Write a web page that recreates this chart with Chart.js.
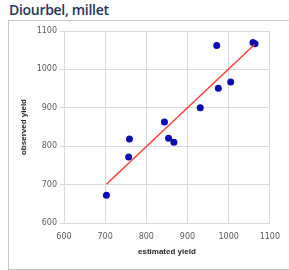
<!DOCTYPE html>
<html>
<head>
<meta charset="utf-8">
<script src="https://cdn.jsdelivr.net/npm/chart.js@4.4.1/dist/chart.umd.min.js"></script>
<style>
    html, body { margin: 0; padding: 0; background: #fff; }
    #wrap { position: relative; width: 289px; height: 270px; overflow: hidden; }
    #titulo { position: absolute; left: 9px; top: 0; font: 600 14px "Open Sans"; letter-spacing: -0.3px; color: #1F3560; white-space: nowrap; }
    #moldura { position: absolute; left: 8px; top: 20px; width: 300px; height: 248px; border: 1px solid #C4C4C4; }
    #grafico { position: absolute; left: 0; top: 0; }
</style>
</head>
<body>
<div id="wrap">
    <div id="titulo">Diourbel, millet</div>
    <div id="moldura"></div>
    <canvas id="grafico" width="289" height="270"></canvas>
</div>
<script>
// dados
const estimatedYield = [703, 757, 759, 844, 854, 867, 931, 971, 975, 1005, 1059, 1064];
const observedYield  = [672, 772, 819, 863, 821, 810, 900, 1062, 951, 967, 1070, 1067];

// linha de tendência (extremos)
const trendX = [703, 1063];
const trendY = [701, 1065];

const AXIS_TICKS = [600, 700, 800, 900, 1000, 1100];

const COR = {
    ponto: '#0C0CB4',
    linha: '#FF3C3C',
    grade: '#D9D9D9',
    texto: '#595959',
    titulo: '#262626',
};

const pontos = estimatedYield.map((x, i) => ({ x, y: observedYield[i] }));
const tendencia = trendX.map((x, i) => ({ x, y: trendY[i] }));

const fonteTick = { family: 'DejaVu Sans', size: 8 };
const fonteTitulo = { family: 'Liberation Sans', size: 8, weight: 'bold' };

new Chart(document.getElementById('grafico'), {
    type: 'scatter',
    data: {
        datasets: [
            {
                type: 'line',
                data: tendencia,
                borderColor: COR.linha,
                borderWidth: 1.5,
                pointRadius: 0,
                fill: false,
            },
            {
                data: pontos,
                backgroundColor: COR.ponto,
                borderColor: COR.ponto,
                pointRadius: 3.5,
                pointBorderWidth: 0,
            }
        ]
    },
    options: {
        responsive: false,
        animation: false,
        layout: { padding: { left: 8, top: 31, right: 18, bottom: 7 } },
        plugins: {
            legend: { display: false },
            tooltip: { enabled: false },
        },
        scales: {
            x: {
                type: 'linear',
                min: 600,
                max: 1100,
                afterBuildTicks: s => { s.ticks = AXIS_TICKS.map(v => ({ value: v })); },
                afterFit: s => { s.height = 40; },
                grid: { color: COR.grade, drawTicks: false },
                border: { color: COR.grade },
                ticks: { font: fonteTick, color: COR.texto, padding: 9, maxRotation: 0, callback: v => String(v) },
                title: {
                    display: true,
                    text: 'estimated yield',
                    font: fonteTitulo,
                    color: COR.titulo,
                    padding: { top: 0, bottom: 6.5 },
                }
            },
            y: {
                type: 'linear',
                min: 600,
                max: 1100,
                afterBuildTicks: s => { s.ticks = AXIS_TICKS.map(v => ({ value: v })); },
                afterFit: s => { s.width = 56; },
                grid: { color: COR.grade, tickLength: 4 },
                border: { color: COR.grade },
                ticks: { font: fonteTick, color: COR.texto, padding: 3, callback: v => String(v) },
                title: {
                    display: true,
                    text: 'observed yield',
                    font: fonteTitulo,
                    color: COR.titulo,
                    padding: { top: 11, bottom: 0 },
                }
            }
        }
    }
});
</script>
</body>
</html>
